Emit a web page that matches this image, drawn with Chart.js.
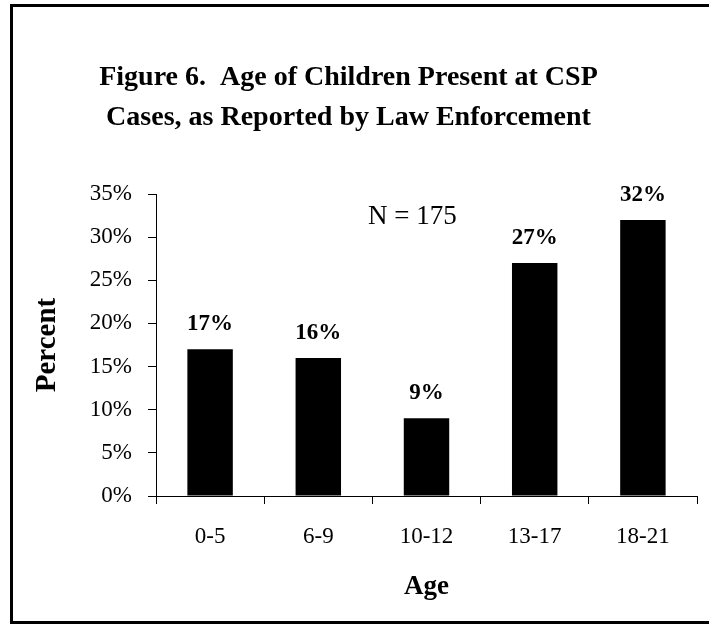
<!DOCTYPE html>
<html>
<head>
<meta charset="utf-8">
<script src="https://cdn.jsdelivr.net/npm/chart.js@4/dist/chart.umd.min.js"></script>
<style>
    html, body { margin: 0; padding: 0; overflow: hidden; background: #fff; }
    #wrap { position: relative; width: 709px; height: 626px; }
    #frame {
        position: absolute; left: 10px; top: 4px; width: 760px; height: 614px;
        border: 3px solid #000; pointer-events: none;
    }
</style>
</head>
<body>
<div id="wrap">
    <canvas id="chart" width="709" height="626"></canvas>
    <div id="frame"></div>
</div>
<script>
// Data
const ageGroups = ['0-5', '6-9', '10-12', '13-17', '18-21'];
const percentValues = [17, 16, 9, 27, 32];
const yTicks = [0, 5, 10, 15, 20, 25, 30, 35];
const titleLines = ['Figure 6.  Age of Children Present at CSP', 'Cases, as Reported by Law Enforcement'];
const sampleNote = 'N = 175';

const serif = '"Liberation Serif", "Times New Roman", serif';

// bar value labels above each bar
const barLabels = {
    id: 'barLabels',
    afterDatasetsDraw(chart) {
        const ctx = chart.ctx;
        const meta = chart.getDatasetMeta(0);
        ctx.save();
        ctx.font = 'bold 23px ' + serif;
        ctx.fillStyle = '#000';
        ctx.textAlign = 'center';
        ctx.textBaseline = 'alphabetic';
        meta.data.forEach((bar, i) => {
            ctx.fillText(percentValues[i] + '%', bar.x, bar.y - 19);
        });
        ctx.restore();
    }
};

// "N = 175" note inside the plot
const noteText = {
    id: 'noteText',
    afterDraw(chart) {
        const ctx = chart.ctx;
        const x = chart.scales.x.getPixelForValue(1.87);
        const y = chart.scales.y.getPixelForValue(32.4);
        ctx.save();
        ctx.font = '27px ' + serif;
        ctx.fillStyle = '#000';
        ctx.textAlign = 'center';
        ctx.textBaseline = 'middle';
        ctx.fillText(sampleNote, x, y);
        ctx.restore();
    }
};

new Chart(document.getElementById('chart'), {
    type: 'bar',
    data: {
        labels: ageGroups,
        datasets: [{
            data: percentValues,
            backgroundColor: '#000',
            borderWidth: 0,
            barPercentage: 0.42,
            categoryPercentage: 1
        }]
    },
    options: {
        responsive: false,
        animation: false,
        events: [],
        layout: { padding: { left: 0, right: 12, top: 0, bottom: 0 } },
        plugins: {
            legend: { display: false },
            tooltip: { enabled: false },
            title: {
                display: true,
                text: titleLines,
                color: '#000',
                font: { family: serif, size: 28, weight: 'bold', lineHeight: 40 / 28 },
                padding: { top: 58, bottom: 56 }
            }
        },
        scales: {
            x: {
                grid: { display: true, drawOnChartArea: false, drawTicks: true, tickLength: 8, color: '#000', offset: true },
                border: { display: true, color: '#000', width: 1 },
                ticks: { color: '#000', font: { family: serif, size: 23 }, padding: 19, maxRotation: 0 },
                title: {
                    display: true, text: 'Age', color: '#000',
                    font: { family: serif, size: 27, weight: 'bold' },
                    padding: { top: 0, bottom: 23 }
                },
                afterFit(scale) { scale.height = 130; }
            },
            y: {
                min: 0,
                max: 35,
                afterBuildTicks(scale) { scale.ticks = yTicks.map(v => ({ value: v })); },
                grid: { display: true, drawOnChartArea: false, drawTicks: true, tickLength: 8, color: '#000' },
                border: { display: true, color: '#000', width: 1 },
                ticks: {
                    color: '#000', font: { family: serif, size: 23 }, padding: 16,
                    callback: v => v + '%'
                },
                title: {
                    display: true, text: 'Percent', color: '#000',
                    font: { family: serif, size: 29, weight: 'bold' },
                    padding: { top: 30, bottom: 0 }
                },
                afterFit(scale) { scale.width = 156; }
            }
        }
    },
    plugins: [barLabels, noteText]
});
</script>
</body>
</html>
